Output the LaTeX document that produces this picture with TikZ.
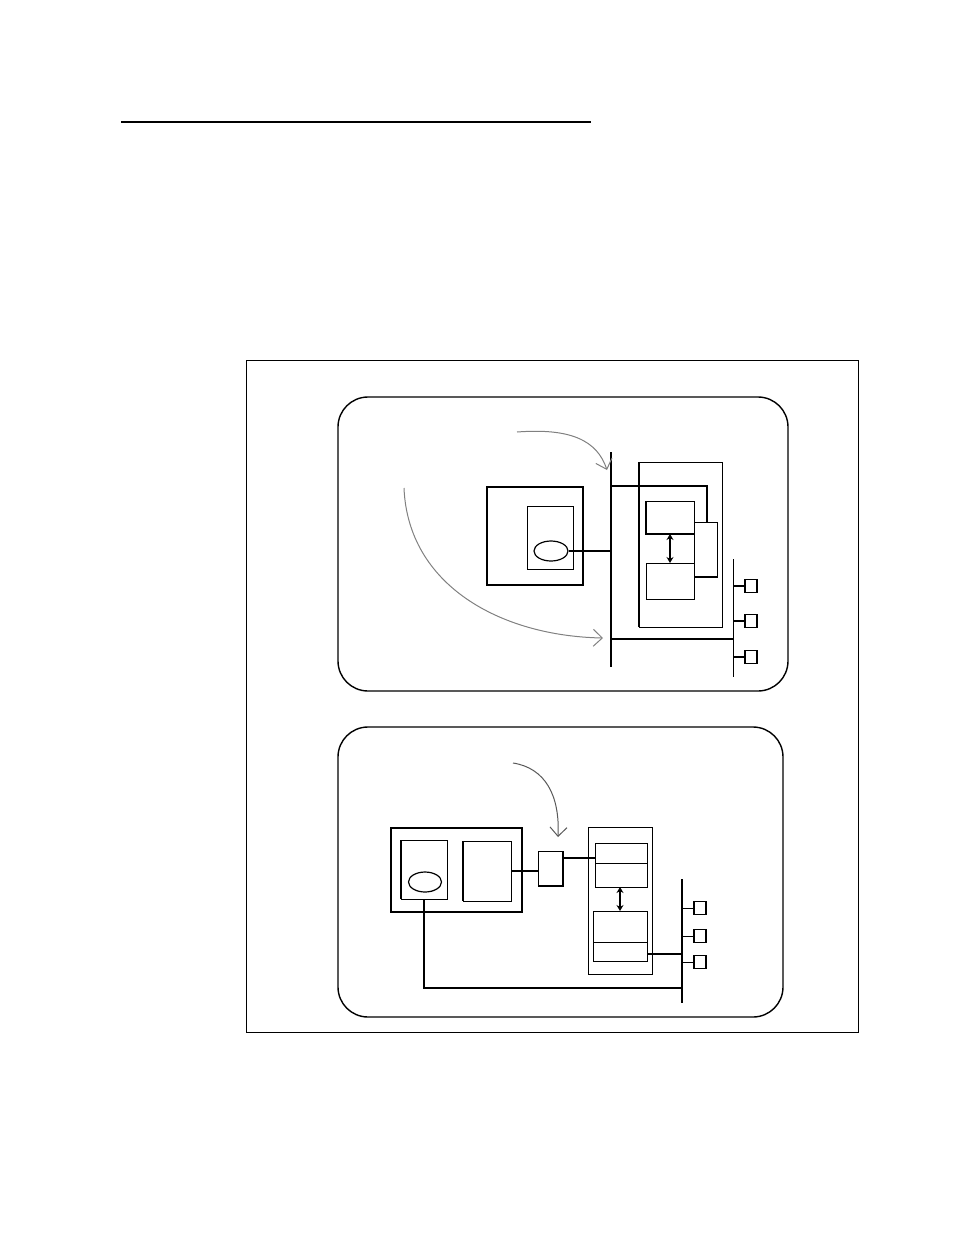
\documentclass[tikz,border=0pt]{standalone}
\usetikzlibrary{arrows.meta,shapes.geometric}

\begin{document}
\begin{tikzpicture}[x=1pt,y=-1pt,>=Stealth,
  ln/.style={line width=0.8pt},
  mid/.style={line width=1.4pt},
  bold/.style={line width=2.2pt},
  box/.style={draw,ln,inner sep=0pt,outer sep=0pt},
  port/.style={box,line width=1.8pt,minimum width=12pt,minimum height=13pt},
  oval/.style={draw,ellipse,line width=1.2pt,inner sep=0pt,minimum width=34pt,minimum height=20pt},
  flow/.style={line width=1pt,gray,-{Straight Barb[length=9pt,width=17pt]}},
  swap/.style={bold,{Stealth[length=6pt,width=7pt]}-{Stealth[length=6pt,width=7pt]}}]
  \useasboundingbox (0,0) rectangle (954,1235);
  \draw[line width=1.3pt] (121,122) -- (591,122);
  \draw[ln] (246,360) rectangle (858,1032);
  \draw[mid,rounded corners=30pt] (338,397) rectangle (788,691);
  \draw[mid,rounded corners=30pt] (338,727) rectangle (783,1017);
  % upper panel
  \node[box,line width=2pt,minimum width=96pt,minimum height=98pt] (host) at (535,536) {};
  \node[box,minimum width=46pt,minimum height=63pt] (proc) at (550,537.5) {};
  \node[oval] (ellA) at (551,551) {};
  \coordinate (b1top) at (611,452);
  \coordinate (b1bot) at (611,667);
  \draw[mid] (b1top) -- (b1bot);
  \node[box,minimum width=83pt,minimum height=165pt] (ctl) at (680.5,544.5) {};
  \draw[bold] (ctl.north west) -- (ctl.south west);
  \node[box,minimum width=48pt,minimum height=33pt] (up) at (670,517.5) {};
  \draw[bold] (up.north west) -- (up.south west) -- (up.south east);
  \node[box,minimum width=48pt,minimum height=36pt] (lo) at (670,581) {};
  \node[box,minimum width=23pt,minimum height=55pt] (side) at (705.5,549.5) {};
  \draw[bold] (side.south west) -- (side.south east);
  \draw[swap] (up.south) -- (lo.north);
  \draw[bold] (ellA.east) -- (ellA.east -| b1top);
  \coordinate (j1) at (611,486);
  \draw[bold] (j1) -| ([xshift=1.5pt]side.north);
  \coordinate (b2top) at (733,559);
  \coordinate (b2bot) at (733,677);
  \draw[ln] (b2top) -- (b2bot);
  \coordinate (j2) at (611,639);
  \draw[bold] (j2) -- (j2 -| b2top);
  \foreach \n/\y in {1/586,2/621,3/657}{
    \node[port] (sq\n) at (751,\y) {};
    \draw[mid] (sq\n.west -| b2top) -- (sq\n.west);
  }
  \coordinate (f1) at (517,432);
  \coordinate (t1) at (607,470);
  \draw[flow] (f1) .. controls (570,428) and (597,440) .. (t1);
  \coordinate (f2) at (404,488);
  \coordinate (t2) at (603,638);
  \draw[flow] (f2) .. controls (408,585) and (500,636) .. (t2);
  % lower panel
  \node[box,mid,minimum width=131pt,minimum height=84pt] (host2) at (456.5,870) {};
  \node[box,minimum width=46pt,minimum height=59pt] (pA) at (424,869.5) {};
  \draw[mid] (pA.north west) -- (pA.south west);
  \node[oval,minimum width=33pt] (ellB) at (425,882) {};
  \node[box,minimum width=48pt,minimum height=60pt] (pB) at (487,871) {};
  \draw[mid] (pB.north west) -- (pB.south west);
  \node[box,minimum width=25pt,minimum height=35pt] (gw) at (550.5,868.5) {};
  \draw[mid] (gw.north east) -- (gw.south east) -- (gw.south west);
  \draw[bold] (pB.east) -- (pB.east -| gw.west);
  \node[box,minimum width=64pt,minimum height=147pt] (rack) at (620,900.5) {};
  \node[box,minimum width=52pt,minimum height=44pt] (m1) at (621,865) {};
  \draw[ln] ([yshift=2pt]m1.west) -- ([yshift=2pt]m1.east);
  \node[box,minimum width=54pt,minimum height=50pt] (m2) at (620,936) {};
  \draw[ln] ([yshift=-6pt]m2.west) -- ([yshift=-6pt]m2.east);
  \draw[swap,line width=1.2pt] (m1.south -| 620,0) -- (m2.north);
  \draw[bold] ([yshift=10.5pt]gw.east) -- ([yshift=10.5pt]gw.east -| m1.west);
  \coordinate (b3top) at (682,879);
  \coordinate (b3bot) at (682,1003);
  \draw[mid] (b3top) -- (b3bot);
  \draw[bold] ([yshift=-18pt]m2.east) -- ([yshift=-18pt]m2.east -| b3top);
  \foreach \n/\y in {1/908,2/936,3/962}{
    \node[port,line width=1.2pt] (pt\n) at (700,\y) {};
    \draw[ln] (pt\n.west -| b3top) -- (pt\n.west);
  }
  \coordinate (j3) at (682,988);
  \draw[mid] (pA.south) |- (j3);
  \coordinate (f3) at (513,763);
  \coordinate (t3) at (558,837);
  \draw[flow,gray!70!black] (f3) .. controls (545,768) and (560,795) .. (t3);
\end{tikzpicture}
\end{document}
